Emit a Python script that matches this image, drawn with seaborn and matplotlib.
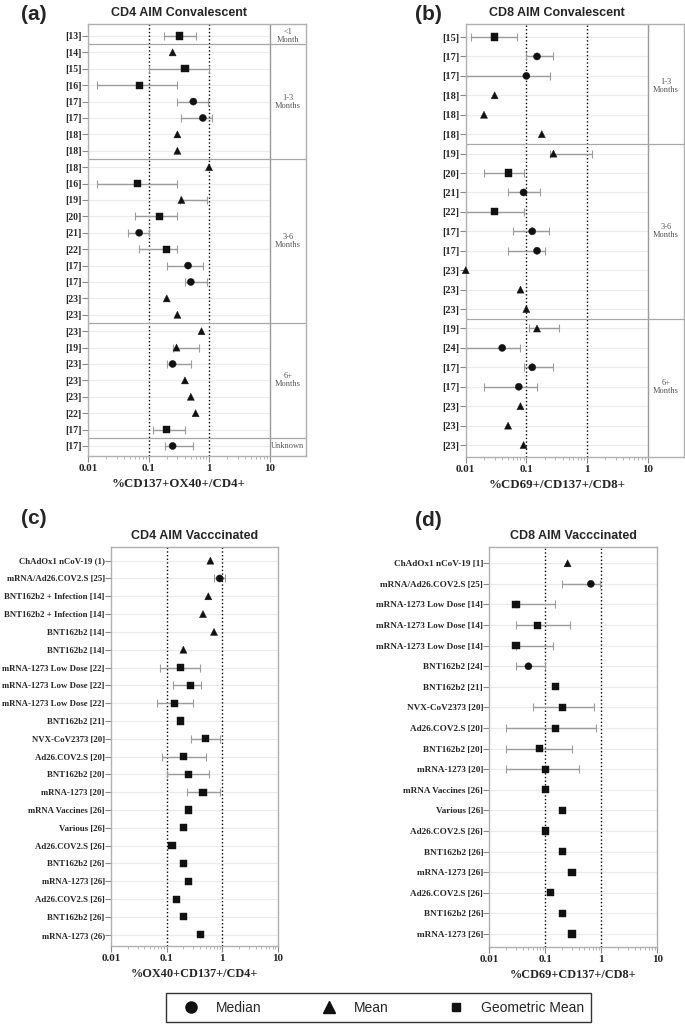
import numpy as np
import pandas as pd
import seaborn as sns
import matplotlib.pyplot as plt
from matplotlib.lines import Line2D
from matplotlib.ticker import FixedLocator, NullFormatter

nan = np.nan
STAT_NAMES = {"M": "Median", "A": "Mean", "G": "Geometric Mean"}
MARKERS = {"Median": "o", "Mean": "^", "Geometric Mean": "s"}

# (a) CD4 AIM Convalescent
a_labels = ["[13]", "[14]", "[15]", "[16]", "[17]", "[17]", "[18]", "[18]", "[18]", "[16]",
            "[19]", "[20]", "[21]", "[22]", "[17]", "[17]", "[23]", "[23]", "[23]", "[19]",
            "[23]", "[23]", "[23]", "[22]", "[17]", "[17]"]
a_stat = ["G", "A", "G", "G", "M", "M", "A", "A", "A", "G", "A", "G", "M", "G", "M", "M",
          "A", "A", "A", "A", "M", "A", "A", "A", "G", "M"]
a_val = [0.32, 0.25, 0.40, 0.07, 0.55, 0.79, 0.30, 0.30, 1.0, 0.065, 0.35, 0.152, 0.07, 0.198,
         0.45, 0.50, 0.20, 0.30, 0.75, 0.29, 0.25, 0.40, 0.50, 0.60, 0.20, 0.25]
a_lo = [0.18, nan, 0.10, 0.014, 0.30, 0.35, nan, nan, nan, 0.014, 0.33, 0.059, 0.046, 0.07,
        0.20, 0.40, nan, nan, nan, 0.25, 0.20, nan, nan, nan, 0.12, 0.19]
a_hi = [0.60, nan, 1.0, 0.30, 0.97, 1.11, nan, nan, nan, 0.30, 0.93, 0.30, 0.10, 0.30,
        0.80, 0.91, nan, nan, nan, 0.69, 0.50, nan, nan, nan, 0.40, 0.55]
a_groups = ["<1\nMonth", "1-3\nMonths", "3-6\nMonths", "6+\nMonths", "Unknown"]
a_group_n = [1, 7, 10, 7, 1]

# (b) CD8 AIM Convalescent
b_labels = ["[15]", "[17]", "[17]", "[18]", "[18]", "[18]", "[19]", "[20]", "[21]", "[22]",
            "[17]", "[17]", "[23]", "[23]", "[23]", "[19]", "[24]", "[17]", "[17]", "[23]",
            "[23]", "[23]"]
b_stat = ["G", "M", "M", "A", "A", "A", "A", "G", "M", "G", "M", "M", "A", "A", "A", "A",
          "M", "M", "M", "A", "A", "A"]
b_val = [0.03, 0.15, 0.10, 0.03, 0.02, 0.18, 0.28, 0.05, 0.09, 0.03, 0.125, 0.15, 0.01, 0.08,
         0.10, 0.15, 0.04, 0.125, 0.075, 0.08, 0.05, 0.09]
b_lo = [0.012, 0.10, 0.01, nan, nan, nan, 0.25, 0.02, 0.05, 0.01, 0.06, 0.05, nan, nan, nan,
        0.11, 0.01, 0.09, 0.02, nan, nan, nan]
b_hi = [0.071, 0.28, 0.25, nan, nan, nan, 1.19, 0.09, 0.17, 0.09, 0.24, 0.20, nan, nan, nan,
        0.35, 0.08, 0.28, 0.15, nan, nan, nan]
b_groups = ["1-3\nMonths", "3-6\nMonths", "6+\nMonths"]
b_group_n = [6, 9, 7]

# (c) CD4 AIM Vacccinated
c_labels = ["ChAdOx1 nCoV-19 (1)", "mRNA/Ad26.COV2.S [25]", "BNT162b2 + Infection [14]",
            "BNT162b2 + Infection [14]", "BNT162b2 [14]", "BNT162b2 [14]",
            "mRNA-1273 Low Dose [22]", "mRNA-1273 Low Dose [22]", "mRNA-1273 Low Dose [22]",
            "BNT162b2 [21]", "NVX-CoV2373 [20]", "Ad26.COV2.S [20]", "BNT162b2 [20]",
            "mRNA-1273 [20]", "mRNA Vaccines [26]", "Various [26]", "Ad26.COV2.S [26]",
            "BNT162b2 [26]", "mRNA-1273 [26]", "Ad26.COV2.S [26]", "BNT162b2 [26]",
            "mRNA-1273 (26)"]
c_stat = ["A", "M", "A", "A", "A", "A"] + ["G"] * 16
c_val = [0.61, 0.90, 0.56, 0.45, 0.71, 0.20, 0.18, 0.27, 0.14, 0.18, 0.49, 0.20, 0.25, 0.45,
         0.25, 0.20, 0.125, 0.20, 0.25, 0.15, 0.20, 0.40]
c_lo = [nan, 0.72, nan, nan, nan, nan, 0.076, 0.13, 0.066, nan, 0.27, 0.081, 0.10, 0.235,
        nan, nan, nan, nan, nan, nan, nan, nan]
c_hi = [nan, 1.12, nan, nan, nan, nan, 0.39, 0.42, 0.30, nan, 0.91, 0.50, 0.58, 0.91,
        nan, nan, nan, nan, nan, nan, nan, nan]

# (d) CD8 AIM Vacccinated
d_labels = ["ChAdOx1 nCoV-19 [1]", "mRNA/Ad26.COV2.S [25]", "mRNA-1273 Low Dose [14]",
            "mRNA-1273 Low Dose [14]", "mRNA-1273 Low Dose [14]", "BNT162b2 [24]",
            "BNT162b2 [21]", "NVX-CoV2373 [20]", "Ad26.COV2.S [20]", "BNT162b2 [20]",
            "mRNA-1273 [20]", "mRNA Vaccines [26]", "Various [26]", "Ad26.COV2.S [26]",
            "BNT162b2 [26]", "mRNA-1273 [26]", "Ad26.COV2.S [26]", "BNT162b2 [26]",
            "mRNA-1273 [26]"]
d_stat = ["A", "M", "G", "G", "G", "M"] + ["G"] * 13
d_val = [0.25, 0.65, 0.03, 0.072, 0.03, 0.05, 0.15, 0.20, 0.15, 0.08, 0.10, 0.10, 0.20,
         0.10, 0.20, 0.30, 0.126, 0.20, 0.30]
d_lo = [nan, 0.20, 0.03, 0.03, 0.03, 0.03, nan, 0.06, 0.02, 0.02, 0.02, nan, nan, nan,
        nan, nan, nan, nan, nan]
d_hi = [nan, 0.95, 0.15, 0.28, 0.14, 0.10, nan, 0.75, 0.79, 0.30, 0.40, nan, nan, nan,
        nan, nan, nan, nan, nan]

sns.set_style("ticks")
plt.rcParams["font.family"] = ["Liberation Sans", "DejaVu Sans"]
SERIF = ["Liberation Serif", "DejaVu Serif"]

fig = plt.figure(figsize=(6.85, 10.3), dpi=100)


def panel(rect, labels, stat, val, lo, hi, xmax, pads, ylab_fs, title, xlabel, xlab_fs,
          groups=None, group_n=None):
    ax = fig.add_axes(rect)
    n = len(labels)
    df = pd.DataFrame({"row": np.arange(n), "stat": [STAT_NAMES[s] for s in stat],
                       "val": val, "lo": lo, "hi": hi})
    ax.set_xscale("log")
    # light row lines up to 10
    ax.hlines(df["row"], 0.01, 10, color="#ebebeb", lw=0.8, zorder=0)
    for ref in (0.1, 1):
        ax.axvline(ref, color="black", ls=":", lw=1, zorder=1)
    err = df.dropna(subset=["lo"])
    ax.errorbar(err["val"], err["row"],
                xerr=[err["val"] - err["lo"], err["hi"] - err["val"]],
                fmt="none", ecolor="#9c9c9c", elinewidth=1, capsize=3, capthick=0.8,
                zorder=2)
    sns.scatterplot(data=df, x="val", y="row", style="stat", markers=MARKERS,
                    color="#111111", s=26, edgecolor="#111111", linewidth=0.3,
                    legend=False, ax=ax, zorder=3, clip_on=False)
    ax.set_xlim(0.01, xmax)
    ax.set_ylim(n - 1 + pads[1], -pads[0])
    ax.set_yticks(range(n))
    ax.set_yticklabels(labels, family=SERIF, weight="bold", fontsize=ylab_fs)
    ax.xaxis.set_major_locator(FixedLocator([0.01, 0.1, 1, 10]))
    ax.set_xticklabels(["0.01", "0.1", "1", "10"], family=SERIF, weight="bold", fontsize=8)
    minors = [m * 10.0 ** e for e in (-2, -1, 0) for m in range(2, 10)]
    ax.xaxis.set_minor_locator(FixedLocator(minors))
    ax.xaxis.set_minor_formatter(NullFormatter())
    ax.tick_params(axis="x", which="major", length=4, width=0.8, color="#888888", pad=2)
    ax.tick_params(axis="x", which="minor", length=2, width=0.6, color="#aaaaaa")
    ax.tick_params(axis="y", length=4, width=0.8, color="#888888", pad=0.5)
    for sp in ax.spines.values():
        sp.set_visible(True)
        sp.set_color("#b0b0b0")
        sp.set_linewidth(1)
    ax.set_ylabel("")

    # centre of the 0.01-10 data area, in axes fraction
    xc = 1.5 / np.log10(xmax / 0.01)
    ax.set_xlabel(xlabel, family=SERIF, weight="bold", fontsize=xlab_fs)
    ax.xaxis.label.set_va("center")
    h_px = rect[3] * 1030
    ax.xaxis.set_label_coords(xc, -28 / h_px)
    ax.annotate(title, xy=(xc, 1), xycoords="axes fraction", xytext=(0, 8),
                textcoords="offset points", ha="center", va="center",
                fontsize=9, weight="bold")

    if groups is not None:
        ax.axvline(10, color="#9a9a9a", lw=1, zorder=1)
        xg = np.sqrt(10 * xmax)
        start = 0
        for name, k in zip(groups, group_n):
            end = start + k
            ax.text(xg, (start + end - 1) / 2, name, ha="center", va="center",
                    family=SERIF, fontsize=6, color="#555555", linespacing=1.0)
            if end < n:
                ax.axhline(end - 0.5, color="#a8a8a8", lw=0.9, zorder=1)
            start = end
    return ax


panel([0.1285, 0.5573, 0.3182, 0.4194], a_labels, a_stat, a_val, a_lo, a_hi, 40,
      (0.73, 0.61), 7, "CD4 AIM Convalescent", "%CD137+OX40+/CD4+", 9.3,
      a_groups, a_group_n)
panel([0.6799, 0.5566, 0.3187, 0.4201], b_labels, b_stat, b_val, b_lo, b_hi, 40,
      (0.67, 0.60), 7.5, "CD8 AIM Convalescent", "%CD69+/CD137+/CD8+", 9.3,
      b_groups, b_group_n)
panel([0.1620, 0.0816, 0.2438, 0.3874], c_labels, c_stat, c_val, c_lo, c_hi, 10,
      (0.77, 0.63), 6.3, "CD4 AIM Vacccinated", "%OX40+CD137+/CD4+", 8.8)
panel([0.7143, 0.0806, 0.2453, 0.3883], d_labels, d_stat, d_val, d_lo, d_hi, 10,
      (0.79, 0.63), 6.6, "CD8 AIM Vacccinated", "%CD69+CD137+/CD8+", 8.8)

for lab, xp, yp in [("(a)", 21, 14), ("(b)", 415, 14), ("(c)", 21, 519), ("(d)", 415, 520)]:
    fig.text(xp / 685, 1 - yp / 1030, lab, ha="left", va="center", fontsize=15,
             weight="bold")

handles = [Line2D([], [], ls="none", marker="o", ms=8, color="#111111"),
           Line2D([], [], ls="none", marker="^", ms=8, color="#111111"),
           Line2D([], [], ls="none", marker="s", ms=5.5, color="#111111")]
fig.legend(handles, ["Median", "Mean", "Geometric Mean"], loc="center",
           bbox_to_anchor=(378.5 / 685, 1 - 1007.5 / 1030), ncol=3, fontsize=10,
           frameon=True, fancybox=False, edgecolor="#333333", framealpha=1,
           handlelength=2.5, handletextpad=0.55, columnspacing=3.6, borderpad=0.55)

fig.savefig("out.png", dpi=100)
